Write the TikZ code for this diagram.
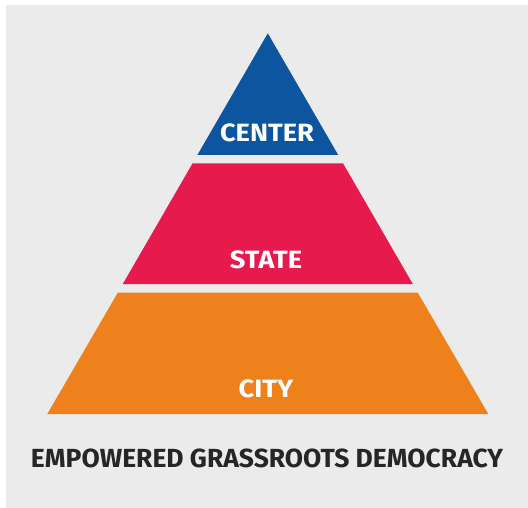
\documentclass[tikz,border=0pt]{standalone}
\usepackage{fontspec}
\setmainfont{Fira Sans}
\definecolor{bgray}{HTML}{EAEBEA}
\definecolor{pblue}{HTML}{0E55A0}
\definecolor{pred}{HTML}{E61A4C}
\definecolor{porange}{HTML}{EF811C}
\definecolor{ptext}{HTML}{262626}
\newcommand{\tierfont}[1]{\scalebox{1.09}[1]{\fontsize{25}{25}\selectfont\bfseries #1}}
\newcommand{\capfont}[1]{\scalebox{1.01}[1]{\fontsize{26.2}{26}\selectfont\bfseries #1}}
\begin{document}
\begin{tikzpicture}[x=1pt,y=-1pt,
  tierlabel/.style={anchor=base,text=white,inner sep=0pt},
  caption/.style={anchor=base,text=ptext,inner sep=0pt}]
\useasboundingbox (0,0) rectangle (528,508);
\fill[white] (0,0) rectangle (528,508);
\fill[bgray] (6,5) rectangle (528,508);
% pyramid: apex (267.8,33.3), base y=414, half-width 220.5
\fill[pblue] (267.8,33.3) -- (338.2,155) -- (197.4,155) -- cycle;
\fill[pred] (192.6,163.3) -- (343.0,163.3) -- (412.8,284) -- (122.8,284) -- cycle;
\fill[porange] (117.8,292.7) -- (417.8,292.7) -- (488.3,414) -- (47.3,414) -- cycle;
\node[tierlabel] (center) at (267,141.7) {\tierfont{CENTER}};
\node[tierlabel] (state) at (266,268.3) {\tierfont{STATE}};
\node[tierlabel] (city) at (266,397.3) {\tierfont{CITY}};
\node[caption] (cap) at (267,467.7) {\capfont{EMPOWERED GRASSROOTS DEMOCRACY}};
\end{tikzpicture}
\end{document}
